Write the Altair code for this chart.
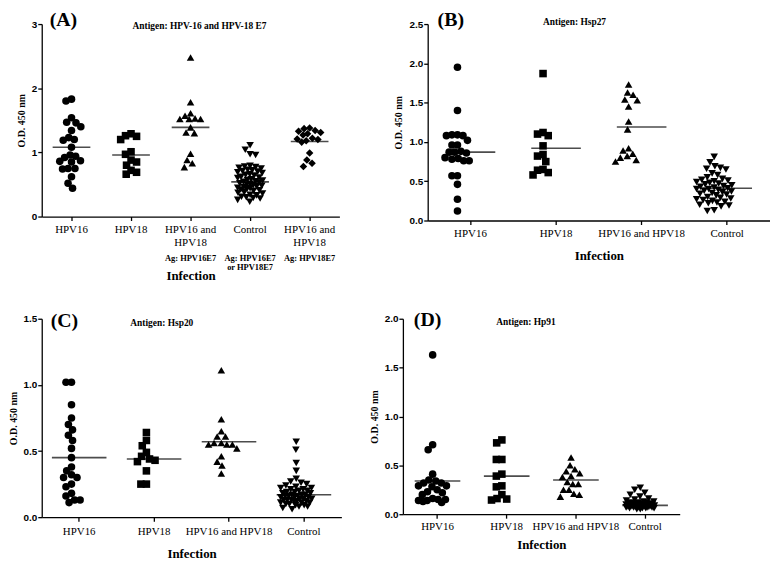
import math
import altair as alt
import pandas as pd

SHAPES = ["circle", "square", "triangle-up", "triangle-down", "diamond"]

# ---------------- Panel A : Antigen HPV-16 and HPV-18 E7 ----------------
A_groups = ["HPV16", "HPV18", "HPV16 and HPV18 (Ag: HPV16E7)", "Control",
            "HPV16 and HPV18 (Ag: HPV18E7)"]
A_ag_text = ["", "", "Ag: HPV16E7", "Ag: HPV16E7\nor HPV18E7", "Ag: HPV18E7"]
A_hpv16 = [1.83, 1.80, 1.54, 1.47, 1.46, 1.40, 1.34, 1.23, 1.20, 1.19, 1.08,
           0.96, 0.94, 0.92, 0.87, 0.86, 0.85, 0.75, 0.75, 0.74, 0.62, 0.52, 0.44]
A_hpv18 = [1.29, 1.26, 1.25, 1.20, 1.01, 0.97, 0.88, 0.85, 0.80, 0.72, 0.69, 0.66]
A_both16 = [2.48, 1.78, 1.61, 1.57, 1.53, 1.52, 1.52, 1.52, 1.39, 1.31, 1.30,
            0.98, 0.88, 0.83, 0.77]
A_control = [1.11, 1.04, 0.97, 0.96, 0.79, 0.78, 0.77, 0.76, 0.75, 0.73, 0.72,
             0.71, 0.70, 0.69, 0.68, 0.66, 0.65, 0.64, 0.62, 0.61, 0.60, 0.58,
             0.57, 0.56, 0.55, 0.54, 0.53, 0.52, 0.51, 0.50, 0.49, 0.48, 0.47,
             0.46, 0.45, 0.44, 0.43, 0.42, 0.41, 0.40, 0.38, 0.37, 0.36, 0.34,
             0.33, 0.31, 0.30, 0.29, 0.28, 0.26, 0.23]
A_both18 = [1.38, 1.37, 1.34, 1.33, 1.31, 1.29, 1.27, 1.22, 1.21, 1.20, 1.18,
            1.16, 0.99, 0.88, 0.83, 0.78]
A_medians = [1.08, 0.96, 1.39, 0.54, 1.17]

# ---------------- Panel B : Antigen Hsp27 ----------------
B_groups = ["HPV16", "HPV18", "HPV16 and HPV18", "Control"]
B_hpv16 = [1.95, 1.40, 1.09, 1.09, 1.08, 1.08, 1.02, 0.96, 0.96, 0.88, 0.87,
           0.87, 0.86, 0.80, 0.79, 0.78, 0.76, 0.76, 0.57, 0.57, 0.46, 0.27, 0.12]
B_hpv18 = [1.87, 1.12, 1.10, 1.08, 0.95, 0.84, 0.82, 0.75, 0.65, 0.64, 0.61, 0.58]
B_both = [1.73, 1.63, 1.60, 1.54, 1.53, 1.45, 1.26, 1.16, 0.92, 0.89, 0.85,
          0.82, 0.80, 0.77, 0.75]
B_control = [0.81, 0.74, 0.69, 0.67, 0.66, 0.65, 0.60, 0.58, 0.55, 0.53, 0.52,
             0.51, 0.50, 0.49, 0.48, 0.47, 0.46, 0.45, 0.44, 0.43, 0.42, 0.41,
             0.40, 0.40, 0.39, 0.38, 0.37, 0.36, 0.35, 0.34, 0.33, 0.32, 0.30,
             0.29, 0.28, 0.27, 0.26, 0.25, 0.24, 0.23, 0.22, 0.20, 0.19, 0.18,
             0.13, 0.12]
B_medians = [0.87, 0.92, 1.19, 0.41]

# ---------------- Panel C : Antigen Hsp20 ----------------
C_groups = ["HPV16", "HPV18", "HPV16 and HPV18", "Control"]
C_hpv16 = [1.02, 1.02, 0.85, 0.75, 0.70, 0.66, 0.62, 0.58, 0.52, 0.45, 0.38,
           0.35, 0.32, 0.30, 0.30, 0.25, 0.23, 0.18, 0.16, 0.13, 0.13, 0.11]
C_hpv18 = [0.64, 0.58, 0.54, 0.49, 0.46, 0.44, 0.43, 0.42, 0.35, 0.25, 0.25]
C_both = [1.11, 0.74, 0.65, 0.61, 0.61, 0.56, 0.56, 0.55, 0.55, 0.55, 0.52,
          0.46, 0.42, 0.39, 0.33]
C_control = [0.57, 0.51, 0.41, 0.35, 0.29, 0.27, 0.26, 0.25, 0.24, 0.23, 0.22,
             0.22, 0.21, 0.21, 0.20, 0.20, 0.19, 0.19, 0.18, 0.18, 0.17, 0.17,
             0.17, 0.16, 0.16, 0.16, 0.15, 0.15, 0.15, 0.14, 0.14, 0.14, 0.13,
             0.13, 0.13, 0.12, 0.12, 0.12, 0.11, 0.11, 0.11, 0.10, 0.10, 0.09,
             0.09, 0.08, 0.08, 0.07, 0.06]
C_medians = [0.45, 0.44, 0.57, 0.17]

# ---------------- Panel D : Antigen Hp91 ----------------
D_groups = ["HPV16", "HPV18", "HPV16 and HPV18", "Control"]
D_hpv16 = [1.63, 0.71, 0.66, 0.41, 0.35, 0.34, 0.32, 0.32, 0.29, 0.29, 0.28,
           0.25, 0.23, 0.22, 0.20, 0.16, 0.15, 0.15, 0.14, 0.14, 0.13, 0.12]
D_hpv18 = [0.76, 0.73, 0.56, 0.56, 0.41, 0.39, 0.29, 0.28, 0.20, 0.16, 0.155, 0.145]
D_both = [0.58, 0.50, 0.46, 0.44, 0.42, 0.39, 0.38, 0.33, 0.31, 0.31, 0.25,
          0.25, 0.21, 0.20, 0.18]
D_control = [0.27, 0.25, 0.22, 0.20, 0.18, 0.16, 0.15, 0.14, 0.13, 0.13, 0.12,
             0.12, 0.12, 0.11, 0.11, 0.11, 0.11, 0.10, 0.10, 0.10, 0.10, 0.10,
             0.09, 0.09, 0.09, 0.09, 0.09, 0.09, 0.08, 0.08, 0.08, 0.08, 0.08,
             0.08, 0.07, 0.07, 0.07, 0.07, 0.07, 0.06, 0.06, 0.06, 0.06, 0.05,
             0.05]
D_medians = [0.34, 0.39, 0.35, 0.09]

SERIF = "Liberation Serif"
SANS = "Liberation Sans"


def swarm(values, ymax, height, maxw, d=8.0):
    """Beeswarm layout: each point goes to the free spot nearest the centre."""
    px = [v / ymax * height for v in values]
    order = sorted(range(len(values)), key=lambda i: -values[i])
    half = maxw / 2
    n = int(half * 2)
    cands = sorted([c * 0.5 for c in range(-n, n + 1)],
                   key=lambda c: (abs(c), c))
    placed = []
    offs = [0.0] * len(values)
    for i in order:
        best, bestd = 0.0, -1.0
        for c in cands:
            md = min((math.hypot(c - x, px[i] - y) for x, y in placed),
                     default=1e9)
            if md >= d:
                best = c
                break
            if md > bestd + 0.3:
                bestd, best = md, c
        offs[i] = best
        placed.append((best, px[i]))
    return offs


def panel(groups, series, medians, ymax, yvals, yfmt, width, height,
          letter, letter_xy, antigen, antigen_xy, line_len, label_expr,
          label_pad, title_pad, ag_text=None):
    bw = width / len(groups)
    rows = []
    for g, vals, shp in zip(groups, series, SHAPES):
        offs = swarm(vals, ymax, height, bw * 0.6)
        for v, o in zip(vals, offs):
            rows.append({"group": g, "od": v, "dx": o, "shape": shp})
    df = pd.DataFrame(rows)

    xenc = alt.X("group:N", sort=groups, title="Infection",
                 scale=alt.Scale(paddingInner=0, paddingOuter=0),
                 axis=alt.Axis(labelExpr=label_expr, labelPadding=label_pad,
                               titlePadding=title_pad, labelLineHeight=13,
                               labelOverlap=False, labelBaseline="top"))
    yenc = alt.Y("od:Q", title="O.D. 450 nm",
                 scale=alt.Scale(domain=[0, ymax], nice=False, zero=True),
                 axis=alt.Axis(values=yvals, format=yfmt))

    pts = alt.Chart(df).mark_point(filled=True, opacity=1, color="black",
                                   size=58).encode(
        x=xenc, y=yenc,
        xOffset=alt.XOffset("dx:Q", scale=alt.Scale(domain=[-bw / 2, bw / 2],
                                                     range=[0, bw])),
        shape=alt.Shape("shape:N", scale=None),
    )
    mdf = pd.DataFrame({"group": groups, "od": medians})
    med = alt.Chart(mdf).mark_tick(color="black", thickness=1.6,
                                   size=line_len).encode(x=xenc, y=yenc)

    ldf = pd.DataFrame({"t": [letter]})
    let = alt.Chart(ldf).mark_text(font=SERIF, fontWeight="bold", fontSize=20,
                                   align="left", baseline="alphabetic",
                                   color="black").encode(
        text="t:N", x=alt.value(letter_xy[0]), y=alt.value(letter_xy[1]))
    adf = pd.DataFrame({"t": [antigen]})
    ant = alt.Chart(adf).mark_text(font=SERIF, fontWeight="bold", fontSize=9.5,
                                   align="center", baseline="middle",
                                   color="black").encode(
        text="t:N", x=alt.value(antigen_xy[0]), y=alt.value(antigen_xy[1]))
    layers = [pts, med, let, ant]
    if ag_text is not None:
        gdf = pd.DataFrame({"group": groups, "ag": ag_text})
        ag = alt.Chart(gdf).mark_text(font=SERIF, fontWeight="bold",
                                      fontSize=8.5, lineBreak="\n",
                                      lineHeight=9, baseline="middle",
                                      color="black").encode(
            x=xenc, y=alt.value(height + 42), text="ag:N")
        layers.append(ag)
    return alt.layer(*layers).properties(width=width, height=height)


split_expr = ("indexof(datum.label, 'HPV16 and HPV18 (') == 0 ? "
              "['HPV16 and', 'HPV18'] : datum.label")

pA = panel(A_groups, [A_hpv16, A_hpv18, A_both16, A_control, A_both18],
           A_medians, 3, [0, 1, 2, 3], "d", 300, 194,
           "(A)", (8, 2), "Antigen: HPV-16 and HPV-18 E7", (159, 2), 38,
           split_expr, 3, 22, A_ag_text)
pB = panel(B_groups, [B_hpv16, B_hpv18, B_both, B_control], B_medians,
           2.5, [0, 0.5, 1, 1.5, 2, 2.5], ".1f", 345, 198,
           "(B)", (10, 2), "Antigen: Hsp27", (148, -2), 50,
           "datum.label", 3, 11)
pC = panel(C_groups, [C_hpv16, C_hpv18, C_both, C_control], C_medians,
           1.5, [0, 0.5, 1, 1.5], ".1f", 302, 200,
           "(C)", (9, 8), "Antigen: Hsp20", (121, 4), 55,
           "datum.label", 4, 12)
pD = panel(D_groups, [D_hpv16, D_hpv18, D_both, D_control], D_medians,
           2.0, [0, 0.5, 1, 1.5, 2], ".1f", 279, 197,
           "(D)", (11, 7), "Antigen: Hp91", (124, 3), 46,
           "datum.label", 2, 8)

top = alt.hconcat(pA, pB, spacing=55)
bottom = alt.hconcat(pC, pD, spacing=28)

chart = alt.vconcat(top, bottom, spacing=28).properties(
    padding=0
).configure_view(stroke=None).configure_axis(
    grid=False, domainColor="black", tickColor="black", domainWidth=1.3,
    tickWidth=1.3, tickSize=4, labelColor="black", titleColor="black"
).configure_axisX(
    labelFont=SERIF, labelFontSize=11, titleFont=SERIF, titleFontSize=13,
    titleFontWeight="bold", tickBand="center", labelAngle=0
).configure_axisY(
    labelFont=SANS, labelFontSize=10, labelFontWeight="bold", titleFont=SERIF,
    titleFontSize=10, titleFontWeight="bold", labelPadding=1, titlePadding=5
)

chart.save("out.html", embed_options={"renderer": "svg", "actions": False})
